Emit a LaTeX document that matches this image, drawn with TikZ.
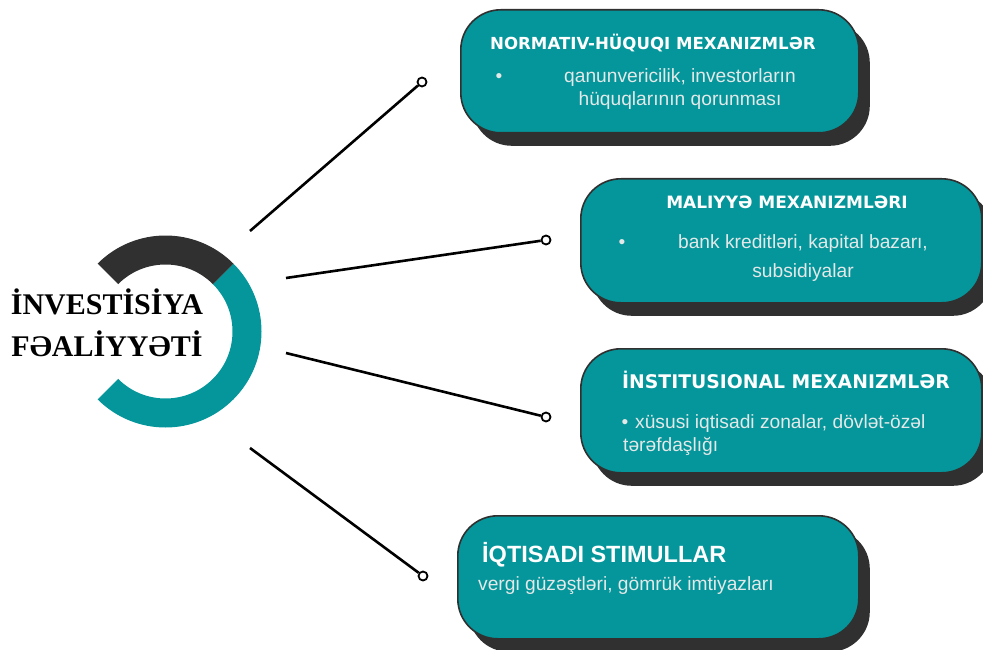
\documentclass[tikz,border=0pt]{standalone}
\usepackage{fontspec}
\usetikzlibrary{calc,shadows}
\newfontfamily\titlefont{DejaVu Sans}
\newfontfamily\bodyfont{Liberation Sans}
\newfontfamily\headserif{Liberation Serif}
\definecolor{tealc}{RGB}{4,150,154}
\definecolor{darkc}{RGB}{48,48,48}
\definecolor{bodyc}{RGB}{228,232,232}
\tikzset{
  box/.style={draw=darkc, line width=1.6pt, fill=tealc, rounded corners=40pt,
    anchor=north west, inner sep=0pt,
    drop shadow={shadow xshift=11pt, shadow yshift=-13pt, fill=darkc, opacity=1}},
  ttl/.style={inner sep=0pt, text=white, font=\titlefont\bfseries\fontsize{16.6}{19}\selectfont},
  bigttl/.style={inner sep=0pt, text=white, font=\bodyfont\bfseries\fontsize{23.5}{27}\selectfont},
  bodytxt/.style={inner sep=0pt, text=bodyc, font=\bodyfont\fontsize{19.2}{22}\selectfont},
  pin/.style={circle, draw=black, fill=white, line width=1.8pt, inner sep=0pt, minimum size=9pt},
  conn/.style={line width=2.6pt, black},
}
\begin{document}
\begin{tikzpicture}[x=1pt,y=-1pt]
\useasboundingbox (0,0) rectangle (983,650);
\clip (0,0) rectangle (983,650);
% ring
\coordinate (C) at (165.5,331.5);
\fill[tealc] ($(C)+(-45:96)$) arc[start angle=-45,end angle=135,radius=96]
  -- ($(C)+(135:67)$) arc[start angle=135,end angle=-45,radius=67] -- cycle;
\fill[darkc] ($(C)+(-135:96)$) arc[start angle=-135,end angle=-45,radius=96]
  -- ($(C)+(-45:67)$) arc[start angle=-45,end angle=-135,radius=67] -- cycle;
\node[inner sep=0pt, font=\headserif\bfseries\fontsize{30}{42}\selectfont, align=center] (main) at (107,323) {İNVESTİSİYA\\FƏALİYYƏTİ};
% boxes
\node[box, minimum width=398pt, minimum height=123pt] (b1) at (460,9) {};
\node[box, minimum width=401pt, minimum height=124pt] (b2) at (580,178) {};
\node[box, minimum width=401pt, minimum height=124pt] (b3) at (580,348) {};
\node[box, minimum width=401pt, minimum height=123pt] (b4) at (457,515) {};
% box 1 text
\node[ttl, anchor=base west] (t1) at (490,50) {NORMATIV-HÜQUQI MEXANIZMLƏR};
\node[bodytxt, anchor=base] (u1) at (499,83) {•};
\node[bodytxt, anchor=base] (l1a) at (680,83) {qanunvericilik, investorların};
\node[bodytxt, anchor=base] (l1b) at (680,106) {hüquqlarının qorunması};
% box 2 text
\node[ttl, anchor=base, font=\titlefont\bfseries\fontsize{17}{19}\selectfont] (t2) at (787,208) {MALIYYƏ MEXANIZMLƏRI};
\node[bodytxt, anchor=base] (u2) at (622,248) {•};
\node[bodytxt, anchor=base] (l2a) at (803,248) {bank kreditləri, kapital bazarı,};
\node[bodytxt, anchor=base] (l2b) at (803,277) {subsidiyalar};
% box 3 text
\node[ttl, anchor=base west, font=\titlefont\bfseries\fontsize{18.8}{21}\selectfont] (t3) at (622,388) {İNSTITUSIONAL MEXANIZMLƏR};
\node[bodytxt, anchor=base] (u3) at (625,428) {•};
\node[bodytxt, anchor=base west] (l3a) at (635,428) {xüsusi iqtisadi zonalar, dövlət-özəl};
\node[bodytxt, anchor=base west] (l3b) at (623,451) {tərəfdaşlığı};
% box 4 text
\node[bigttl, anchor=base west] (t4) at (482,562) {İQTISADI STIMULLAR};
\node[bodytxt, anchor=base west] (l4) at (478,590) {vergi güzəştləri, gömrük imtiyazları};
% connectors
\coordinate (s1) at (250,231);
\coordinate (s2) at (286,278);
\coordinate (s3) at (286,353);
\coordinate (s4) at (250,448);
\node[pin] (c1) at (422,82) {};
\node[pin] (c2) at (546,240) {};
\node[pin] (c3) at (546,417) {};
\node[pin] (c4) at (423,576) {};
\draw[conn] (s1) -- (c1);
\draw[conn] (s2) -- (c2);
\draw[conn] (s3) -- (c3);
\draw[conn] (s4) -- (c4);
\end{tikzpicture}
\end{document}
